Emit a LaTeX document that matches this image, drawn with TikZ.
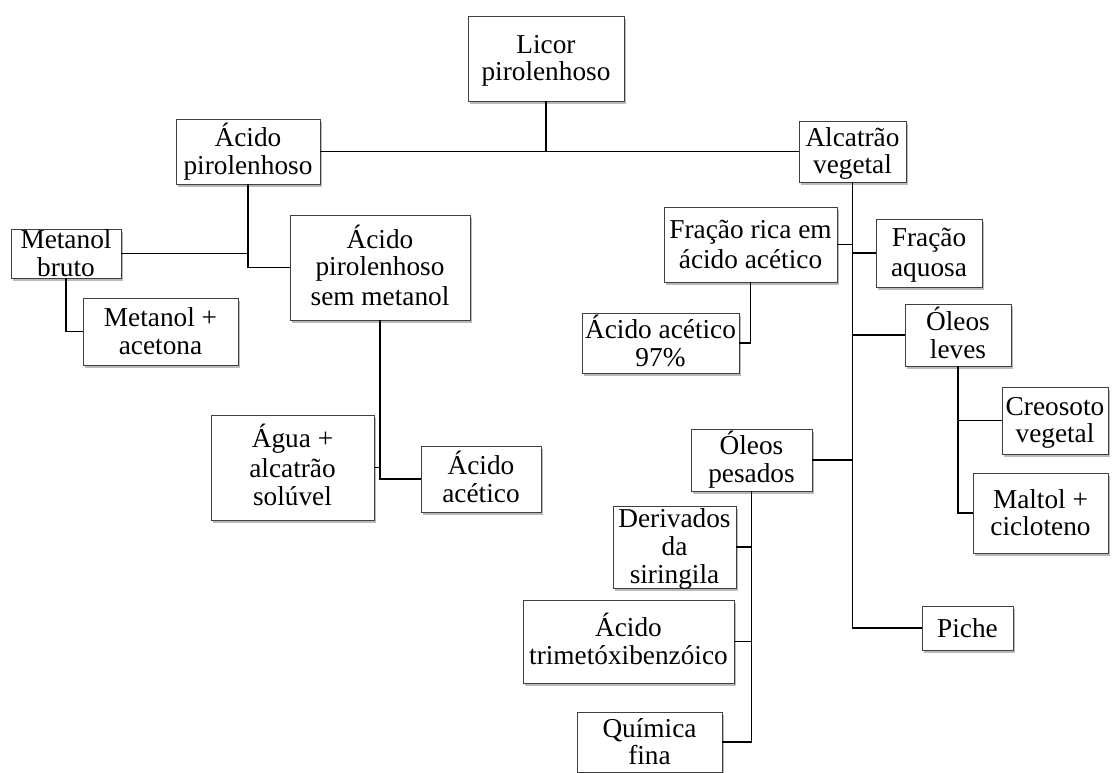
\documentclass[tikz,border=0pt]{standalone}
\usepackage{fontspec}
\setmainfont{Liberation Serif}
\usetikzlibrary{shadows}
\newcommand\sx{\rule[-4.9pt]{0pt}{27.8pt}}
\newcommand\mybox[6]{%
  \node[box, minimum width=#4pt, minimum height=#5pt] (#1) at (#2,#3) {};
  \node[txt] (#1-t) at (#1.center) {#6};}
\tikzset{
  box/.style={draw=black!75, line width=0.8pt, fill=white, inner sep=0pt,
    drop shadow={shadow xshift=2pt, shadow yshift=-2.5pt, fill=black!45, opacity=0.6}},
  txt/.style={inner sep=0pt, align=center, font=\fontsize{27.3}{27.8}\selectfont},
  conn/.style={line width=1.9pt, draw=black}
}
\begin{document}
\begin{tikzpicture}[x=1pt, y=-1pt]
\clip (0,0) rectangle (1116,772);
\fill[white] (0,0) rectangle (1116,772);
\mybox{licor}{546}{58.5}{156}{85}{\sx Licor\\\sx pirolenhoso}
\mybox{acpir}{248}{151.5}{144}{65}{\sx Ácido\\\sx pirolenhoso}
\mybox{alc}{852.5}{151.5}{107}{61}{\sx Alcatrão\\\sx vegetal}
\mybox{metb}{66}{253.5}{110}{49}{\sx Metanol\\\sx bruto}
\mybox{semmet}{380}{267.5}{180}{105}{\sx Ácido\\\sx pirolenhoso\\\sx sem metanol}
\mybox{metac}{160.5}{331.5}{155}{67}{\sx Metanol +\\\sx acetona}
\mybox{agua}{292.5}{467.5}{163}{105}{\sx Água +\\\sx alcatrão\\\sx solúvel}
\mybox{acac}{481}{479}{120}{66}{\sx Ácido\\\sx acético}
\mybox{frica}{750.5}{244.5}{173}{75}{\sx Fração rica em\\\sx ácido acético}
\mybox{faq}{929}{253}{106}{68}{\sx Fração\\\sx aquosa}
\mybox{oleve}{958}{335}{106}{62}{\sx Óleos\\\sx leves}
\mybox{ac97}{660.5}{343}{157}{60}{\sx Ácido acético\\\sx 97\%}
\mybox{opes}{751.5}{460}{121}{62}{\sx Óleos\\\sx pesados}
\mybox{creo}{1055}{420.5}{106}{67}{\sx Creosoto\\\sx vegetal}
\mybox{malt}{1040.5}{513}{135}{80}{\sx Maltol +\\\sx cicloteno}
\mybox{piche}{967.5}{628}{91}{44}{\sx Piche}
\mybox{deriv}{674.5}{547}{123}{82}{\sx Derivados\\\sx da\\\sx siringila}
\mybox{trim}{628.5}{641.5}{211}{83}{\sx Ácido\\\sx trimetóxibenzóico}
\mybox{quim}{649.5}{742}{145}{60}{\sx Química\\\sx fina}
% connectors
\draw[conn] (licor.south) -- (licor.south |- acpir.east);
\draw[conn] (acpir.east) -- (alc.west);
\draw[conn] (acpir.south) |- (semmet.west);
\draw[conn] (metb.east) -- (metb.east -| acpir.south);
\draw[conn] (metb.south) |- (metac.west);
\draw[conn] (semmet.south) |- (acac.west);
\draw[conn] (agua.east) -- (agua.east -| semmet.south);
\draw[conn] (alc.south) |- (piche.west);
\draw[conn] (frica.east) -- (frica.east -| alc.south);
\draw[conn] (faq.west) -- (faq.west -| alc.south);
\draw[conn] (oleve.west) -- (oleve.west -| alc.south);
\draw[conn] (opes.east) -- (opes.east -| alc.south);
\draw[conn] (frica.south) |- (ac97.east);
\draw[conn] (oleve.south) |- (malt.west);
\draw[conn] (creo.west) -- (creo.west -| oleve.south);
\draw[conn] (opes.south) |- (quim.east);
\draw[conn] (deriv.east) -- (deriv.east -| opes.south);
\draw[conn] (trim.east) -- (trim.east -| opes.south);
\end{tikzpicture}
\end{document}
